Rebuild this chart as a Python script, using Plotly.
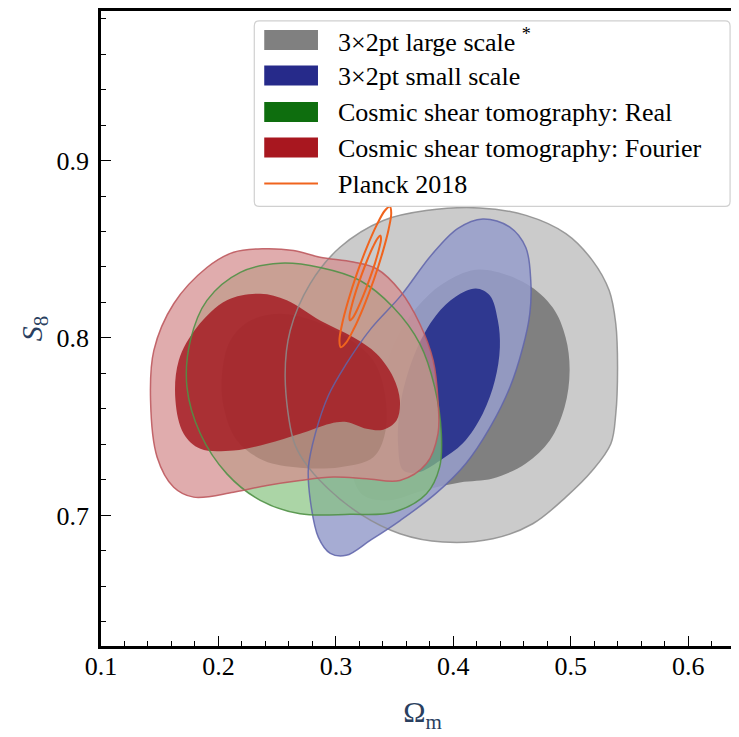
import plotly.graph_objects as go

# ---------------- data (Omega_m, S8) contour vertices ----------------
gray_outer_om = [0.4223, 0.4619, 0.4958, 0.5185, 0.5327, 0.5383, 0.5398, 0.5383, 0.5341, 0.5185,
                 0.4958, 0.4676, 0.4336, 0.3911, 0.3545, 0.3205, 0.2921, 0.2723, 0.2639, 0.2568,
                 0.2611, 0.2780, 0.3035, 0.3403, 0.3767]
gray_outer_s8 = [0.8733, 0.8691, 0.8588, 0.8436, 0.8267, 0.8080, 0.7835, 0.7573, 0.7404, 0.7254,
                 0.7103, 0.6953, 0.6868, 0.6850, 0.6897, 0.7009, 0.7159, 0.7310, 0.7422, 0.7779,
                 0.8042, 0.8305, 0.8511, 0.8662, 0.8718]

gray_inner_om = [0.4223, 0.4617, 0.4846, 0.4956, 0.4990, 0.4947, 0.4821, 0.4617, 0.4336, 0.4056,
                 0.3743, 0.3445, 0.3233, 0.3148, 0.3233, 0.3360, 0.3530, 0.3742, 0.3954]
gray_inner_s8 = [0.8386, 0.8307, 0.8171, 0.8003, 0.7817, 0.7609, 0.7422, 0.7293, 0.7208, 0.7186,
                 0.7141, 0.7085, 0.7113, 0.7225, 0.7423, 0.7704, 0.8014, 0.8211, 0.8324]

blue_outer_om = [0.4251, 0.4481, 0.4617, 0.4659, 0.4651, 0.4591, 0.4481, 0.4311, 0.4107, 0.3852,
                 0.3547, 0.3292, 0.3088, 0.2952, 0.2851, 0.2782, 0.2766, 0.2825, 0.2936, 0.3080,
                 0.3300, 0.3555, 0.3810, 0.4039]
blue_outer_s8 = [0.8671, 0.8625, 0.8510, 0.8324, 0.8138, 0.7946, 0.7721, 0.7495, 0.7293, 0.7124,
                 0.6971, 0.6859, 0.6775, 0.6786, 0.6876, 0.7085, 0.7270, 0.7462, 0.7676, 0.7845,
                 0.8054, 0.8240, 0.8465, 0.8618]

blue_inner_om = [0.4192, 0.4311, 0.4379, 0.4396, 0.4354, 0.4251, 0.4081, 0.3887, 0.3700, 0.3573,
                 0.3530, 0.3555, 0.3683, 0.3852, 0.4022]
blue_inner_s8 = [0.8279, 0.8240, 0.8098, 0.7946, 0.7761, 0.7575, 0.7406, 0.7310, 0.7243, 0.7254,
                 0.7395, 0.7647, 0.7930, 0.8127, 0.8234]

green_outer_om = [0.2526, 0.2865, 0.3205, 0.3488, 0.3714, 0.3841, 0.3898, 0.3883, 0.3771, 0.3488,
                  0.3120, 0.2695, 0.2356, 0.2072, 0.1846, 0.1732, 0.1761, 0.1902, 0.2186]
green_outer_s8 = [0.8421, 0.8397, 0.8324, 0.8173, 0.7968, 0.7723, 0.7460, 0.7272, 0.7122, 0.7018,
                  0.7006, 0.7009, 0.7085, 0.7234, 0.7460, 0.7723, 0.7986, 0.8212, 0.8370]

green_inner_om = [0.2526, 0.2808, 0.3091, 0.3318, 0.3417, 0.3417, 0.3318, 0.3035, 0.2695, 0.2384,
                  0.2157, 0.2044, 0.2030, 0.2101, 0.2271]
green_inner_s8 = [0.8136, 0.8098, 0.8004, 0.7873, 0.7685, 0.7460, 0.7328, 0.7272, 0.7269, 0.7310,
                  0.7422, 0.7610, 0.7798, 0.7986, 0.8098]

red_outer_om = [0.2384, 0.2639, 0.2865, 0.3148, 0.3346, 0.3545, 0.3714, 0.3828, 0.3869, 0.3869,
                0.3771, 0.3545, 0.3261, 0.2978, 0.2695, 0.2412, 0.2129, 0.1789, 0.1619, 0.1478,
                0.1422, 0.1450, 0.1619, 0.1902, 0.2129]
red_outer_s8 = [0.8503, 0.8493, 0.8455, 0.8428, 0.8390, 0.8267, 0.8080, 0.7873, 0.7647, 0.7460,
                0.7292, 0.7197, 0.7207, 0.7216, 0.7197, 0.7169, 0.7131, 0.7103, 0.7159, 0.7328,
                0.7647, 0.7930, 0.8193, 0.8397, 0.8483]

red_inner_om = [0.2356, 0.2582, 0.2865, 0.3148, 0.3346, 0.3488, 0.3545, 0.3516, 0.3403, 0.3261,
                0.3091, 0.2950, 0.2695, 0.2412, 0.2129, 0.1846, 0.1704, 0.1634, 0.1662, 0.1817,
                0.2072]
red_inner_s8 = [0.8249, 0.8212, 0.8098, 0.8004, 0.7911, 0.7779, 0.7647, 0.7535, 0.7483, 0.7488,
                0.7526, 0.7517, 0.7460, 0.7404, 0.7366, 0.7375, 0.7460, 0.7647, 0.7873, 0.8060,
                0.8212]

planck_outer_om = [0.3042, 0.3085, 0.3154, 0.3237, 0.3323, 0.3397, 0.3449, 0.3471, 0.3459, 0.3416,
                   0.3347, 0.3264, 0.3178, 0.3104, 0.3052, 0.3030]
planck_outer_s8 = [0.7948, 0.7972, 0.8053, 0.8177, 0.8328, 0.8481, 0.8613, 0.8704, 0.8741, 0.8717,
                   0.8636, 0.8512, 0.8361, 0.8208, 0.8076, 0.7985]
planck_inner_om = [0.3120, 0.3143, 0.3183, 0.3233, 0.3285, 0.3333, 0.3367, 0.3384, 0.3379, 0.3356,
                   0.3316, 0.3266, 0.3214, 0.3166, 0.3132, 0.3115]
planck_inner_s8 = [0.8099, 0.8113, 0.8162, 0.8238, 0.8329, 0.8422, 0.8502, 0.8556, 0.8577, 0.8563,
                   0.8514, 0.8438, 0.8347, 0.8254, 0.8175, 0.8120]

legend_labels = ["3×2pt large scale <sup>*</sup>", "3×2pt small scale",
                 "Cosmic shear tomography: Real", "Cosmic shear tomography: Fourier",
                 "Planck 2018"]

x_ticks = [0.1, 0.2, 0.3, 0.4, 0.5, 0.6]
y_ticks = [0.7, 0.8, 0.9]

# ---------------- styling ----------------
FONT = "Liberation Serif"
swatch_colors = ["#808080", "#262a8a", "#0e6e0e", "#a8171f"]
planck_color = "#f0641e"


def closed(a):
    return list(a) + [a[0]]


fig = go.Figure()


def add_fill(om, s8, fill):
    fig.add_trace(go.Scatter(
        x=closed(om), y=closed(s8), mode="lines", fill="toself", fillcolor=fill,
        line=dict(color="rgba(0,0,0,0)", width=0, shape="spline", smoothing=1.0),
        hoverinfo="skip", showlegend=False))


def add_edge(om, s8, color, width=1.5):
    fig.add_trace(go.Scatter(
        x=closed(om), y=closed(s8), mode="lines",
        line=dict(color=color, width=width, shape="spline", smoothing=1.0),
        hoverinfo="skip", showlegend=False))


# fills (legend order)
add_fill(gray_outer_om, gray_outer_s8, "#cbcbcb")
add_fill(gray_inner_om, gray_inner_s8, "#808080")
add_fill(blue_outer_om, blue_outer_s8, "rgba(150,157,203,0.85)")
add_fill(blue_inner_om, blue_inner_s8, "rgba(40,48,140,0.93)")
add_fill(green_outer_om, green_outer_s8, "rgba(135,195,128,0.7)")
add_fill(green_inner_om, green_inner_s8, "rgba(45,95,45,0.7)")
add_fill(red_outer_om, red_outer_s8, "rgba(212,140,142,0.72)")
add_fill(red_inner_om, red_inner_s8, "rgba(165,28,35,0.85)")
# contour edges
add_edge(gray_outer_om, gray_outer_s8, "rgba(140,140,140,0.85)")
add_edge(blue_outer_om, blue_outer_s8, "rgba(95,100,170,0.85)")
add_edge(green_outer_om, green_outer_s8, "rgba(80,145,70,0.9)")
add_edge(red_outer_om, red_outer_s8, "rgba(190,90,95,0.9)")
# Planck 2018
add_edge(planck_outer_om, planck_outer_s8, planck_color, 2)
add_edge(planck_inner_om, planck_inner_s8, planck_color, 2)

# ---------------- custom legend (matplotlib style) ----------------
L, T, B = 93, 1, 638
W, H = 739 - L, B - T


def px(xp):
    return (xp - L) / W


def py(yp):
    return (B - yp) / H


bx0, bx1, by0, by1 = px(247), px(725), py(197), py(11)
rx, ry = 5 / W, 5 / H
path = (f"M {bx0+rx},{by1} L {bx1-rx},{by1} Q {bx1},{by1} {bx1},{by1-ry} "
        f"L {bx1},{by0+ry} Q {bx1},{by0} {bx1-rx},{by0} L {bx0+rx},{by0} "
        f"Q {bx0},{by0} {bx0},{by0+ry} L {bx0},{by1-ry} Q {bx0},{by1} {bx0+rx},{by1} Z")
shapes = [dict(type="path", xref="paper", yref="paper", path=path,
               fillcolor="rgba(255,255,255,0.8)", line=dict(color="#d0d0d0", width=1.2),
               layer="above")]
rows = [30, 65.7, 102.3, 138, 174]
annotations = []
for i, lab in enumerate(legend_labels):
    yc = rows[i]
    if i < 4:
        shapes.append(dict(type="rect", xref="paper", yref="paper", x0=px(257), x1=px(311),
                           y0=py(yc + 10), y1=py(yc - 10), fillcolor=swatch_colors[i],
                           line=dict(width=0), layer="above"))
    else:
        shapes.append(dict(type="line", xref="paper", yref="paper", x0=px(257), x1=px(311),
                           y0=py(yc), y1=py(yc), line=dict(color=planck_color, width=2),
                           layer="above"))
    annotations.append(dict(xref="paper", yref="paper", x=px(329), y=py(yc + 1), text=lab,
                            xanchor="left", yanchor="middle", showarrow=False,
                            font=dict(family=FONT, size=26, color="black")))

axis_common = dict(showline=True, linecolor="black", linewidth=2.5, ticks="inside",
                   ticklen=10, tickwidth=1.3, tickcolor="black", showgrid=False, zeroline=False,
                   tickfont=dict(family=FONT, size=26, color="black"), tickformat=".1f",
                   minor=dict(ticks="inside", ticklen=5, tickwidth=1.1, tickcolor="black",
                              dtick=0.02, showgrid=False))

fig.update_layout(
    width=739, height=737,
    margin=dict(l=L, r=0, t=T, b=737 - B),
    paper_bgcolor="white", plot_bgcolor="white",
    showlegend=False,
    xaxis=dict(range=[0.1, 0.64746], tickvals=x_ticks, mirror=True, ticklabelstandoff=-5,
               title=dict(text="Ω<sub>m</sub>", font=dict(family=FONT, size=30), standoff=22),
               **axis_common),
    yaxis=dict(range=[0.6264, 0.98427], tickvals=y_ticks, mirror="ticks", ticklabelstandoff=4,
               title=dict(text="<i>S</i><sub>8</sub>", font=dict(family=FONT, size=30), standoff=6),
               **axis_common),
    shapes=shapes, annotations=annotations,
)

fig.write_html("out.html")
